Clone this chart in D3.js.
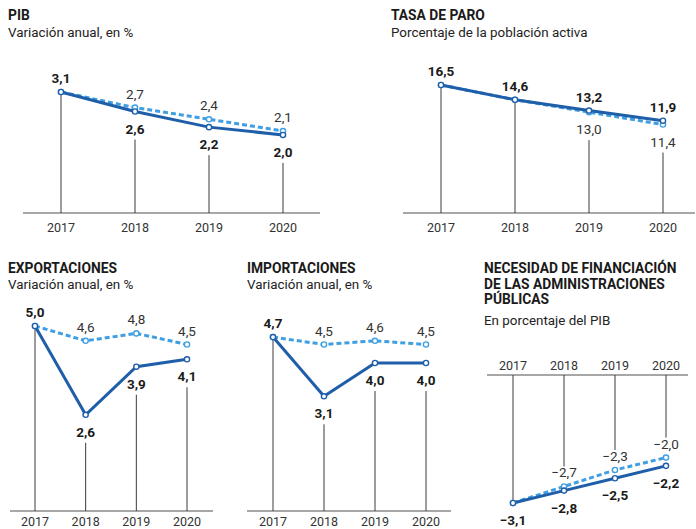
<!DOCTYPE html>
<html>
<head>
<meta charset="utf-8">
<script src="https://cdn.jsdelivr.net/npm/d3@7"></script>
<style>
  body { margin: 0; background: #fff; }
  svg { display: block; font-family: Roboto, "Open Sans", sans-serif; }
</style>
</head>
<body>
<div class="chart"></div>
<script>
// datos: real (linea continua) y prevision anterior (linea discontinua)
var years = ["2017", "2018", "2019", "2020"]

var pibReal = [3.1, 2.6, 2.2, 2.0]
var pibPrev = [3.1, 2.7, 2.4, 2.1]

var paroReal = [16.5, 14.6, 13.2, 11.9]
var paroPrev = [16.5, 14.6, 13.0, 11.4]

var expReal = [5.0, 2.6, 3.9, 4.1]
var expPrev = [5.0, 4.6, 4.8, 4.5]

var impReal = [4.7, 3.1, 4.0, 4.0]
var impPrev = [4.7, 4.5, 4.6, 4.5]

var defReal = [-3.1, -2.8, -2.5, -2.2]
var defPrev = [-3.1, -2.7, -2.3, -2.0]

var solidColor = "#1f5ea8"
var dashColor = "#3f9fe2"

var svg = d3.select(".chart").append("svg").attr("width", 696).attr("height", 529)

var fmt = d3.format(".1f")
function lab(v) { return fmt(v).replace(".", ",") }

function titles(x, y, lines, sub, subY) {
  lines.forEach((t, i) => {
    svg.append("text").attr("x", x).attr("y", y + i * 15.5).text(t)
      .style("font-size", "13.8px").style("font-weight", "bold").style("fill", "#1a1a1a")
  })
  svg.append("text").attr("x", x).attr("y", subY).text(sub)
    .style("font-size", "13.4px").style("fill", "#222")
}

function panel(p) {
  var x = d3.scalePoint().domain(years).range(p.xr)
  var y = d3.scaleLinear().domain(p.yd).range(p.yr)
  var base = y(0)
  var neg = p.yd[0] < 0
  var g = svg.append("g")

  // eje
  g.append("line").attr("x1", p.ax[0]).attr("x2", p.ax[1]).attr("y1", base).attr("y2", base)
    .style("stroke", "#8a8a8a").style("stroke-width", 1.5)

  g.selectAll(".yr").data(years).enter().append("text")
    .attr("x", d => x(d)).attr("y", neg ? base - 5 : p.yearY)
    .attr("text-anchor", "middle").text(d => d)
    .style("font-size", "12.5px").style("font-weight", "normal").style("fill", "#333")

  // lineas verticales y etiquetas
  years.forEach((yr, i) => {
    var r = p.real[i], f = p.prev[i]
    var cx = x(yr)
    var labels = []
    if (r == f) {
      labels.push({ v: r, bold: true, up: !neg })
    } else {
      var hi = Math.max(r, f), lo = Math.min(r, f)
      labels.push({ v: hi, bold: hi == r, up: true })
      labels.push({ v: lo, bold: lo == r, up: false })
    }
    var end
    if (!neg) {
      var below = labels.find(l => !l.up)
      end = below ? y(below.v) + 28 : y(Math.min(r, f))
    } else {
      var above = labels.find(l => l.up)
      end = above ? y(above.v) - 20 : y(Math.min(r, f))
    }
    g.append("line").attr("x1", cx).attr("x2", cx).attr("y1", base).attr("y2", end)
      .style("stroke", "#3a3a3a").style("stroke-width", 1)

    labels.forEach(l => {
      g.append("text").attr("x", cx)
        .attr("y", l.up ? y(l.v) - 9 : y(l.v) + 22)
        .attr("text-anchor", "middle").text(lab(l.v))
        .style("font-size", "13.5px").style("font-weight", l.bold ? "bold" : "normal")
        .style("fill", l.bold ? "#1a1a1a" : "#333")
    })
  })

  var line = d3.line().x((d, i) => x(years[i])).y(d => y(d))

  g.append("path").datum(p.prev).attr("d", line).attr("fill", "none")
    .style("stroke", dashColor).style("stroke-width", 3).style("stroke-dasharray", "5,3")
  g.append("path").datum(p.real).attr("d", line).attr("fill", "none")
    .style("stroke", solidColor).style("stroke-width", 3)

  g.selectAll(".pp").data(p.prev).enter().append("circle")
    .attr("cx", (d, i) => x(years[i])).attr("cy", d => y(d)).attr("r", 2.6)
    .style("fill", "#fff").style("stroke", dashColor).style("stroke-width", 1.4)
  g.selectAll(".pr").data(p.real).enter().append("circle")
    .attr("cx", (d, i) => x(years[i])).attr("cy", d => y(d)).attr("r", 2.6)
    .style("fill", "#fff").style("stroke", solidColor).style("stroke-width", 1.4)
}

titles(8, 20, ["PIB"], "Variación anual, en %", 37)
panel({ real: pibReal, prev: pibPrev, xr: [61, 283], ax: [23, 320], yd: [0, 3.1], yr: [213, 92], yearY: 232 })

titles(391, 20, ["TASA DE PARO"], "Porcentaje de la población activa", 37)
panel({ real: paroReal, prev: paroPrev, xr: [441, 663], ax: [403, 695], yd: [0, 16.5], yr: [213, 85], yearY: 232 })

titles(8, 273, ["EXPORTACIONES"], "Variación anual, en %", 289)
panel({ real: expReal, prev: expPrev, xr: [35, 187], ax: [10, 213], yd: [0, 5], yr: [511, 326], yearY: 526 })

titles(247, 273, ["IMPORTACIONES"], "Variación anual, en %", 289)
panel({ real: impReal, prev: impPrev, xr: [273, 426], ax: [247, 451], yd: [0, 5], yr: [511, 326], yearY: 526 })

titles(484, 273, ["NECESIDAD DE FINANCIACIÓN", "DE LAS ADMINISTRACIONES", "PÚBLICAS"], "En porcentaje del PIB", 325)
panel({ real: defReal, prev: defPrev, xr: [513, 666], ax: [487, 688], yd: [-3.1, 0], yr: [503, 375], yearY: 370 })
</script>
</body>
</html>
